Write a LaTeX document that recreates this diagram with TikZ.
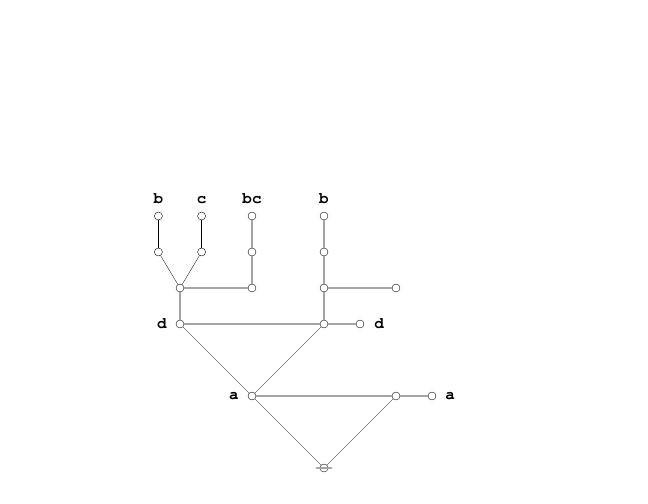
\documentclass[tikz,border=0pt]{standalone}
\usetikzlibrary{positioning}
\definecolor{linegray}{rgb}{.64,.64,.64}
\newcommand{\tagfont}{\fontencoding{T1}\fontfamily{pcr}\fontseries{b}\fontsize{16}{18}\selectfont}

\begin{document}
\begin{tikzpicture}[x=36bp, y=-36bp, line cap=round]
   \tikzstyle{vertex}=[circle, draw=black, fill=white, line width=.4pt, inner sep=0pt, minimum size=8bp]
   \tikzstyle{thin edge}=[draw=black, line width=.3pt]
   \tikzstyle{thick edge}=[draw=linegray, line width=1.7pt]
   \tikzstyle{tag}=[font=\tagfont, inner sep=1pt]

   \useasboundingbox (0,0) rectangle (18,14);

   % leaves
   \node[vertex] (leaf_b)  at (4.4,6) {};
   \node[vertex] (leaf_c)  at (5.6,6) {};
   \node[vertex] (leaf_bc) at (7,6) {};
   \node[vertex] (leaf_b2) at (9,6) {};
   \node[vertex] (mid_b)  at (4.4,7) {};
   \node[vertex] (mid_c)  at (5.6,7) {};
   \node[vertex] (mid_bc) at (7,7) {};
   \node[vertex] (mid_b2) at (9,7) {};
   % branch points
   \node[vertex] (fork_left)  at (5,8) {};
   \node[vertex] (end_bc)     at (7,8) {};
   \node[vertex] (fork_right) at (9,8) {};
   \node[vertex] (end_right)  at (11,8) {};
   \node[vertex] (d_left)  at (5,9) {};
   \node[vertex] (d_mid)   at (9,9) {};
   \node[vertex] (d_right) at (10,9) {};
   \node[vertex] (a_left)  at (7,11) {};
   \node[vertex] (a_mid)   at (11,11) {};
   \node[vertex] (a_right) at (12,11) {};
   \node[vertex] (root)    at (9,13) {};
   \coordinate (root_w) at (8.8,13);
   \coordinate (root_e) at (9.2,13);

   % labels
   \node[tag, above=8bp of leaf_b, anchor=base] {b};
   \node[tag, above=8bp of leaf_c, anchor=base] {c};
   \node[tag, above=8bp of leaf_bc, anchor=base] {bc};
   \node[tag, above=8bp of leaf_b2, anchor=base] {b};
   \node[tag, left=8bp of d_left] {d};
   \node[tag, right=9bp of d_right] {d};
   \node[tag, left=8bp of a_left] {a};
   \node[tag, right=8bp of a_right] {a};

   \path[thin edge]
  (leaf_b) edge (mid_b)
  (leaf_c) edge (mid_c)
  (mid_b) edge (fork_left)
  (mid_c) edge (fork_left)
  (d_left) edge (a_left)
  (d_mid) edge (a_left)
  (a_left) edge (root)
  (a_mid) edge (root)
   ;

   \path[thick edge]
  (leaf_bc) edge (mid_bc)
  (mid_bc) edge (end_bc)
  (fork_left) edge (end_bc)
  (fork_left) edge (d_left)
  (leaf_b2) edge (mid_b2)
  (mid_b2) edge (fork_right)
  (fork_right) edge (end_right)
  (fork_right) edge (d_mid)
  (d_left) edge (d_mid)
  (d_mid) edge (d_right)
  (a_left) edge (a_mid)
  (a_mid) edge (a_right)
  (root_w) edge (root_e)
   ;
 \end{tikzpicture}
\end{document}
